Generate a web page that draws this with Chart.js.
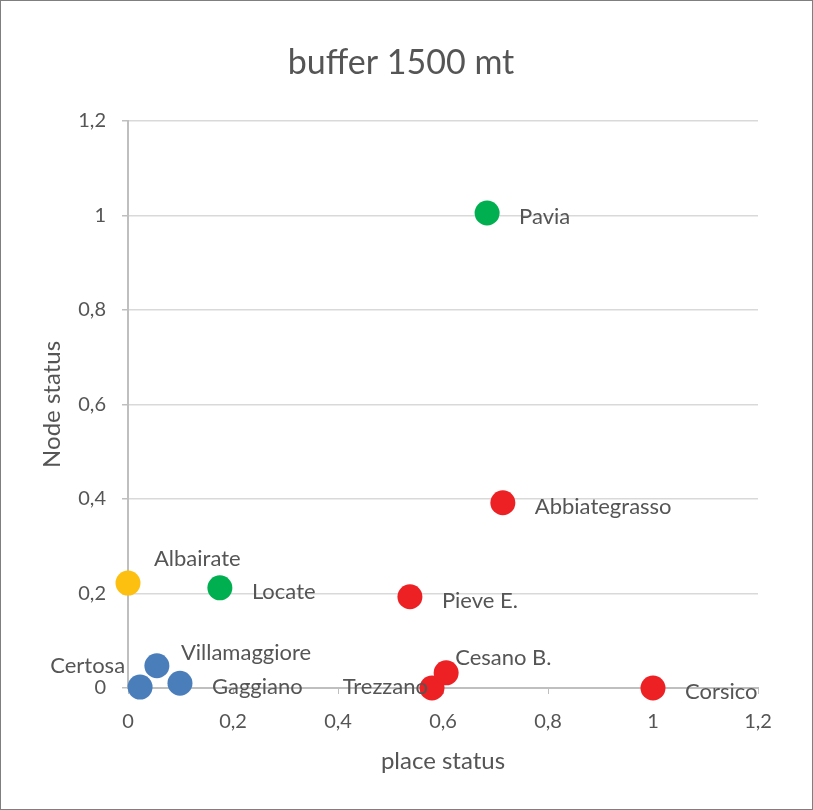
<!DOCTYPE html>
<html>
<head>
<meta charset="utf-8">
<script src="https://cdn.jsdelivr.net/npm/chart.js@4.4.0/dist/chart.umd.min.js"></script>
<style>
  html, body { margin: 0; padding: 0; background: #ffffff; }
  #wrap { width: 813px; height: 810px; position: relative; }
</style>
</head>
<body>
<div id="wrap"><canvas id="c" width="813" height="810"></canvas></div>
<script>
// ---- data ----
const names   = ['Pavia', 'Abbiategrasso', 'Pieve E.', 'Locate', 'Albairate', 'Certosa', 'Villamaggiore', 'Gaggiano', 'Trezzano', 'Cesano B.', 'Corsico'];
const placeStatus = [0.684, 0.714, 0.537, 0.175, 0.0, 0.023, 0.055, 0.099, 0.579, 0.606, 1.0];
const nodeStatus  = [1.005, 0.392, 0.193, 0.212, 0.222, 0.002, 0.047, 0.010, 0.000, 0.032, 0.000];
const groups      = ['green', 'red', 'red', 'green', 'yellow', 'blue', 'blue', 'blue', 'red', 'red', 'red'];
const labelPlacement = ['right', 'right', 'right', 'right', 'aboveRight', 'aboveLeft', 'upRight', 'right', 'left', 'aboveRightNear', 'right'];
const xTickLabels = ['0', '0,2', '0,4', '0,6', '0,8', '1', '1,2'];
const yTickLabels = ['0', '0,2', '0,4', '0,6', '0,8', '1', '1,2'];

// ---- styles ----
const groupColors = { blue: '#4a7ebb', red: '#ed2024', green: '#00b050', yellow: '#fdbf10' };
const placementOffsets = {
  right: [32, 4, 'left'],
  aboveRight: [26, -24, 'left'],
  upRight: [24, -13, 'left'],
  aboveRightNear: [9, -15, 'left'],
  aboveLeft: [-15, -21, 'right'],
  left: [-4, -1, 'right']
};
const FONT = 'Lato, "Open Sans", sans-serif';
const TEXT = '#555555';

const groupOrder = ['blue', 'red', 'green', 'yellow'];
const datasets = groupOrder.map(g => {
  const idx = names.map((n, i) => i).filter(i => groups[i] === g);
  return {
    label: g,
    data: idx.map(i => ({ x: placeStatus[i], y: nodeStatus[i], name: names[i], place: labelPlacement[i] })),
    backgroundColor: groupColors[g],
    borderWidth: 0,
    pointRadius: 12.5,
    pointHoverRadius: 12.5,
    clip: false
  };
});

const labelPlugin = {
  id: 'pointLabels',
  afterDatasetsDraw(chart) {
    const ctx = chart.ctx;
    ctx.save();
    ctx.font = '22px ' + FONT;
    ctx.fillStyle = TEXT;
    ctx.textBaseline = 'middle';
    chart.data.datasets.forEach((ds, di) => {
      const meta = chart.getDatasetMeta(di);
      meta.data.forEach((el, i) => {
        const d = ds.data[i];
        const off = placementOffsets[d.place];
        ctx.textAlign = off[2];
        ctx.fillText(d.name, el.x + off[0], el.y + off[1]);
      });
    });
    ctx.restore();
  }
};

const framePlugin = {
  id: 'frame',
  afterDraw(chart) {
    const ctx = chart.ctx;
    ctx.save();
    ctx.strokeStyle = '#7f7f7f';
    ctx.lineWidth = 1;
    ctx.strokeRect(0.5, 0.5, chart.width - 1, chart.height - 1);
    ctx.restore();
  }
};

new Chart(document.getElementById('c'), {
  type: 'scatter',
  data: { datasets },
  plugins: [labelPlugin, framePlugin],
  options: {
    responsive: false,
    animation: false,
    devicePixelRatio: 1,
    layout: { padding: { top: 0, right: 55, bottom: 20, left: 44 } },
    plugins: {
      legend: { display: false },
      tooltip: { enabled: false },
      title: {
        display: true,
        text: 'buffer 1500 mt',
        color: TEXT,
        font: { family: FONT, size: 34, weight: 'normal' },
        padding: { top: 43, bottom: 37 }
      }
    },
    scales: {
      x: {
        type: 'linear',
        min: 0, max: 1.2,
        afterFit(s) { s.height = 102; },
        border: { color: '#bfbfbf', width: 2 },
        grid: { drawOnChartArea: false, drawTicks: true, tickLength: 6, color: '#bfbfbf' },
        ticks: {
          stepSize: 0.2,
          padding: 16,
          color: TEXT,
          font: { family: FONT, size: 20 },
          callback: (v, i) => xTickLabels[i]
        },
        title: {
          display: true,
          text: 'place status',
          color: TEXT,
          font: { family: FONT, size: 24 },
          padding: { top: 0, bottom: 14 }
        }
      },
      y: {
        type: 'linear',
        min: 0, max: 1.2,
        afterFit(s) { s.width = 84; },
        border: { color: '#bfbfbf', width: 2 },
        grid: { color: '#d9d9d9', lineWidth: 1.5, tickLength: 6, tickColor: '#bfbfbf' },
        ticks: {
          stepSize: 0.2,
          padding: 16,
          color: TEXT,
          font: { family: FONT, size: 20 },
          callback: (v, i) => yTickLabels[i]
        },
        title: {
          display: true,
          text: 'Node status',
          color: TEXT,
          font: { family: FONT, size: 24 },
          padding: { top: -6, bottom: 0 }
        }
      }
    }
  }
});
</script>
</body>
</html>
